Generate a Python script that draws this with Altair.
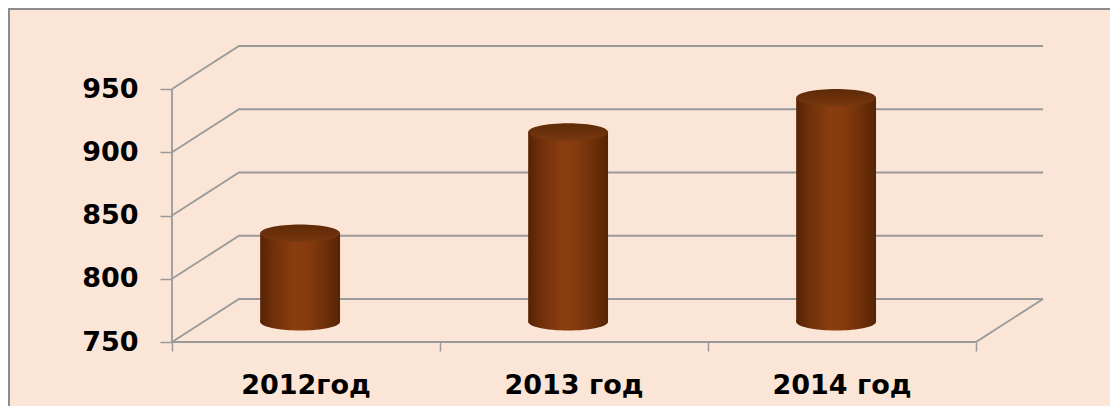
import altair as alt
import pandas as pd

# ---- data ----
categories = ["2012год", "2013 год", "2014 год"]
values = [820, 900, 927]
y_ticks = [750, 800, 850, 900, 950]
title_text = "Динамика среднесписочной численности (человек/ участников работ)"

# ---- layout constants (pixels / data-unit offsets for the 3D look) ----
W, H = 871, 296
PAD_L, PAD_T, PAD_R, PAD_B = 164, 38, 67, 64
Y_MIN, Y_MAX = 750, 984
X_MAX = 3.25
DX, DY = 0.25, 34          # depth offset of the back wall (data units)
BAR_SHIFT = 0.478          # cylinder centre within each category
BAR_HALF = 0.149           # half cylinder width (x units)
BASE_LIFT = 16             # cylinders stand at mid depth
GRID = "#9a9a9a"
BG = "#FBE5D6"

xs = alt.Scale(domain=[0, X_MAX], nice=False, zero=False)
ys = alt.Scale(domain=[Y_MIN, Y_MAX], nice=False, zero=False)

x_axis = alt.Axis(values=[0, 1, 2, 3], labels=False, tickSize=9, tickColor=GRID,
                  tickWidth=1.5, domain=False, grid=False, title=None, zindex=1)
y_axis = alt.Axis(values=y_ticks, labelFont="DejaVu Sans", labelFontWeight="bold",
                  labelFontSize=27, labelColor="#000000", labelPadding=22,
                  tickSize=12, tickColor=GRID, tickWidth=1.5, domain=False,
                  grid=False, title=None, zindex=1)

# wall grid lines (front axis point -> back wall -> right end)
rows = []
for v in y_ticks:
    rows += [
        {"g": f"g{v}", "o": 0, "x": 0, "y": v},
        {"g": f"g{v}", "o": 1, "x": DX, "y": v + DY},
        {"g": f"g{v}", "o": 2, "x": X_MAX, "y": v + DY},
    ]
rows += [
    {"g": "floor", "o": 0, "x": 0, "y": y_ticks[0]},
    {"g": "floor", "o": 1, "x": len(categories), "y": y_ticks[0]},
    {"g": "floor", "o": 2, "x": len(categories) + DX, "y": y_ticks[0] + DY},
    {"g": "axis", "o": 0, "x": 0, "y": y_ticks[0]},
    {"g": "axis", "o": 1, "x": 0, "y": y_ticks[-1]},
]
grid_df = pd.DataFrame(rows)

bars = pd.DataFrame({
    "cat": categories,
    "value": values,
})
bars["i"] = range(len(categories))
bars["cx"] = bars["i"] + BAR_SHIFT
bars["x1"] = bars["cx"] - BAR_HALF
bars["x2"] = bars["cx"] + BAR_HALF
bars["base"] = Y_MIN + BASE_LIFT
bars["top"] = bars["value"] + BASE_LIFT
bars["lx"] = bars["i"] + 0.5

ellipse = ("M -1 0 C -1 -0.1215 -0.5523 -0.22 0 -0.22 C 0.5523 -0.22 1 -0.1215 1 0 "
           "C 1 0.1215 0.5523 0.22 0 0.22 C -0.5523 0.22 -1 0.1215 -1 0 Z")
bar_px = BAR_HALF * 2 * W / X_MAX

body_grad = alt.LinearGradient(
    gradient="linear", x1=0, x2=1, y1=0, y2=0,
    stops=[
        alt.GradientStop(color="#552305", offset=0),
        alt.GradientStop(color="#6E2F09", offset=0.15),
        alt.GradientStop(color="#8A3D10", offset=0.42),
        alt.GradientStop(color="#863B0E", offset=0.6),
        alt.GradientStop(color="#6A2D08", offset=0.85),
        alt.GradientStop(color="#552405", offset=1),
    ],
)
top_grad = alt.LinearGradient(
    gradient="linear", x1=0, x2=0, y1=0, y2=1,
    stops=[
        alt.GradientStop(color="#5E2A07", offset=0),
        alt.GradientStop(color="#6C310B", offset=0.6),
        alt.GradientStop(color="#7A3A10", offset=1),
    ],
)

one = pd.DataFrame({"a": [0]})
background = alt.Chart(one).mark_rect(fill=BG, strokeWidth=0).encode(
    x=alt.value(-PAD_L), x2=alt.value(W + PAD_R),
    y=alt.value(-PAD_T), y2=alt.value(H + PAD_B),
)
border_top = alt.Chart(one).mark_rule(color="#8c8c8c", strokeWidth=2).encode(
    x=alt.value(-PAD_L), x2=alt.value(W + PAD_R), y=alt.value(-PAD_T + 1),
)
border_left = alt.Chart(one).mark_rule(color="#8c8c8c", strokeWidth=2).encode(
    x=alt.value(-PAD_L + 1), y=alt.value(-PAD_T), y2=alt.value(H + PAD_B),
)

grid = alt.Chart(grid_df).mark_line(color=GRID, strokeWidth=1.8).encode(
    x=alt.X("x:Q", scale=xs, axis=x_axis),
    y=alt.Y("y:Q", scale=ys, axis=y_axis),
    detail="g:N",
    order="o:Q",
)

bottom = alt.Chart(bars).mark_point(
    shape=ellipse, filled=True, fill=body_grad, opacity=1, strokeWidth=0
).encode(
    x=alt.X("cx:Q", scale=xs, axis=x_axis),
    y=alt.Y("base:Q", scale=ys, axis=y_axis),
    size=alt.value(bar_px ** 2),
)

body = alt.Chart(bars).mark_rect(color=body_grad).encode(
    x=alt.X("x1:Q", scale=xs, axis=x_axis),
    x2="x2:Q",
    y=alt.Y("base:Q", scale=ys, axis=y_axis),
    y2="top:Q",
)

top = alt.Chart(bars).mark_point(
    shape=ellipse, filled=True, fill=top_grad, opacity=1, strokeWidth=0
).encode(
    x=alt.X("cx:Q", scale=xs, axis=x_axis),
    y=alt.Y("top:Q", scale=ys, axis=y_axis),
    size=alt.value(bar_px ** 2),
)

labels = alt.Chart(bars).mark_text(
    font="DejaVu Sans", fontWeight="bold", fontSize=27, color="#000000",
    baseline="middle", align="center"
).encode(
    x=alt.X("lx:Q", scale=xs, axis=x_axis),
    y=alt.value(H + 44),
    text="cat:N",
)

title = alt.Chart(pd.DataFrame({"t": [title_text]})).mark_text(
    font="Liberation Serif", fontWeight="bold", fontSize=30, color="#000000",
    baseline="alphabetic", align="center"
).encode(
    x=alt.value(572 - 8 - PAD_L),
    y=alt.value(-PAD_T - 14),
    text="t:N",
)

chart = alt.layer(background, border_top, border_left, grid, bottom, body, top,
                  labels, title).properties(
    width=W, height=H,
    autosize=alt.AutoSizeParams(type="none"),
    padding={"left": PAD_L, "top": PAD_T, "right": PAD_R, "bottom": PAD_B},
).configure_view(stroke=None).configure(background="white")

chart.save("out.html", embed_options={"renderer": "svg", "actions": False})
